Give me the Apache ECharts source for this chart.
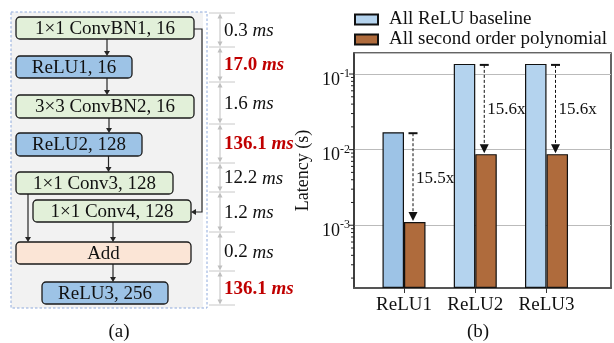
<!DOCTYPE html>
<html><head><meta charset="utf-8">
<script src="https://cdn.jsdelivr.net/npm/echarts@6/dist/echarts.min.js"></script>
<style>html,body{margin:0;padding:0;background:#fff}#c{width:614px;height:343px}</style>
</head><body><div id="c"></div>
<script>
// ---------------- data ----------------
const categories = ['ReLU1', 'ReLU2', 'ReLU3'];
const reluBaseline = [0.0170, 0.1361, 0.1361];      // seconds
const polyLatency = [0.00110, 0.00872, 0.00872];    // seconds
const speedupLabels = ['15.5x', '15.6x', '15.6x'];
const legendNames = ['All ReLU baseline', 'All second order polynomial'];
const yTickExponents = [-3, -2, -1];

const layerNames = ['1×1 ConvBN1, 16', 'ReLU1, 16', '3×3 ConvBN2, 16', 'ReLU2, 128',
                    '1×1 Conv3, 128', '1×1 Conv4, 128', 'Add', 'ReLU3, 256'];
const layerKinds = ['conv', 'relu', 'conv', 'relu', 'conv', 'conv', 'add', 'relu'];
const layerLatencyMs = ['0.3', '17.0', '1.6', '136.1', '12.2', '1.2', '0.2', '136.1'];
const latencyHighlight = [false, true, false, true, false, false, false, true];

// ---------------- layout / style ----------------
const FONT = 'Liberation Serif';
const yMin = 1.479e-4, yMax = 0.1897;
const xMin = -0.7018, xMax = 2.905;
const BAR_W = 21.5;

const boxLayout = [[16,17,178,22],[16,56,116,22],[16,95,178,23],[16,133,126,23],
                   [16,172,157,22],[33,200,158,22],[16,242,175,22],[42,282,126,22]];
const kindFill = {conv: '#E2F0D9', relu: '#9DC3E6', add: '#FBE5D6'};
const sepY = [13, 47, 82, 124, 163, 192, 232, 271, 305];

const g = [];
// panel
g.push({type:'rect', shape:{x:11, y:12, width:192, height:296}, style:{fill:'#F2F2F2'}, z:1});
g.push({type:'rect', shape:{x:11, y:12, width:196, height:296}, style:{fill:'none', stroke:'#8FAADC', lineWidth:1, lineDash:[2.5,2]}, z:2});
// boxes
layerNames.forEach((name, i) => {
  const b = boxLayout[i];
  g.push({type:'rect', shape:{x:b[0], y:b[1], width:b[2], height:b[3], r:4},
    style:{fill:kindFill[layerKinds[i]], stroke:'#1a1a1a', lineWidth:1.3}, z:5});
  g.push({type:'text', x:b[0] + b[2]/2, y:b[1] + b[3]/2 + 1,
    style:{text:name, fontFamily:FONT, fontSize:19, fill:'#111', align:'center', verticalAlign:'middle'}, z:6});
});
// arrows
function arrowDown(x, y0, y1) {
  g.push({type:'line', shape:{x1:x, y1:y0, x2:x, y2:y1-4}, style:{stroke:'#262626', lineWidth:1.2}, z:4});
  g.push({type:'polygon', shape:{points:[[x-3,y1-5],[x+3,y1-5],[x,y1]]}, style:{fill:'#262626'}, z:4});
}
arrowDown(107, 39, 56);
arrowDown(107, 78, 95);
arrowDown(109, 118, 133);
arrowDown(108.5, 156, 172);
arrowDown(28, 194, 242);
arrowDown(113, 222, 242);
arrowDown(113, 264, 282);
g.push({type:'polyline', shape:{points:[[194,29],[202,29],[202,212],[196,212]]}, style:{stroke:'#262626', lineWidth:1.2, fill:null}, z:4});
g.push({type:'polygon', shape:{points:[[196,209],[196,215],[191,212]]}, style:{fill:'#262626'}, z:4});
// latency brackets
sepY.forEach(y => g.push({type:'line', shape:{x1:209, y1:y, x2:235, y2:y}, style:{stroke:'#C8C8C8', lineWidth:1}, z:3}));
layerLatencyMs.forEach((ms, k) => {
  const a = sepY[k], b = sepY[k+1];
  g.push({type:'line', shape:{x1:220, y1:a+4, x2:220, y2:b-4}, style:{stroke:'#BFBFBF', lineWidth:1}, z:3});
  g.push({type:'polygon', shape:{points:[[217.5,a+5.5],[222.5,a+5.5],[220,a+0.5]]}, style:{fill:'#BFBFBF'}, z:3});
  g.push({type:'polygon', shape:{points:[[217.5,b-5.5],[222.5,b-5.5],[220,b-0.5]]}, style:{fill:'#BFBFBF'}, z:3});
  const hi = latencyHighlight[k];
  g.push({type:'text', x:224, y:(a+b)/2 + 1,
    style:{text: hi ? '{rn|' + ms + ' }{ri|ms}' : '{n|' + ms + ' }{i|ms}',
      verticalAlign:'middle', align:'left',
      rich:{
        n:{fontFamily:FONT, fontSize:19, fill:'#111'},
        i:{fontFamily:FONT, fontSize:19, fill:'#111', fontStyle:'italic'},
        rn:{fontFamily:FONT, fontSize:19, fill:'#C00000', fontWeight:'bold'},
        ri:{fontFamily:FONT, fontSize:19, fill:'#C00000', fontWeight:'bold', fontStyle:'italic'}
      }}, z:6});
});
// panel captions
g.push({type:'text', x:119, y:332, style:{text:'(a)', fontFamily:FONT, fontSize:19, fill:'#111', align:'center', verticalAlign:'middle'}});
g.push({type:'text', x:478, y:332, style:{text:'(b)', fontFamily:FONT, fontSize:19, fill:'#111', align:'center', verticalAlign:'middle'}});

// y ticks (log major + minor)
const yTickData = [];
[-4, -3, -2, -1].forEach(e => {
  for (let m = 1; m <= 9; m++) {
    const v = m * Math.pow(10, e);
    if (v >= yMin && v <= yMax) yTickData.push([0, v, m === 1 ? 5 : 3]);
  }
});

const chart = echarts.init(document.getElementById('c'));
chart.setOption({
  animation: false,
  textStyle: {fontFamily: FONT},
  legend: {
    orient: 'vertical', left: 354, top: 10, padding: 0, itemWidth: 23, itemHeight: 10, itemGap: 1,
    icon: 'rect', data: legendNames,
    textStyle: {fontSize: 19, color: '#111', fontFamily: FONT, padding: [0, 0, 0, 6]}
  },
  grid: {left: 354, right: 3, top: 53, bottom: 55, show: true, borderColor: '#333', borderWidth: 1.5},
  xAxis: {
    type: 'value', min: xMin, max: xMax,
    splitLine: {show: false},
    axisLine: {onZero: false, lineStyle: {color: '#555', width: 2}},
    axisTick: {customValues: [0, 1, 2], length: 5, lineStyle: {color: '#333'}},
    axisLabel: {customValues: [0, 1, 2], formatter: v => categories[Math.round(v)],
      fontSize: 19, color: '#111', fontFamily: FONT, margin: 8}
  },
  yAxis: {
    type: 'log', logBase: 10, min: yMin, max: yMax, startValue: yMin,
    name: 'Latency (s)', nameLocation: 'middle', nameGap: 42,
    nameTextStyle: {fontSize: 18, color: '#111', fontFamily: FONT},
    axisLine: {onZero: false, lineStyle: {color: '#333', width: 1.5}},
    axisTick: {show: false},
    axisLabel: {
      showMinLabel: false, showMaxLabel: false, margin: 4,
      formatter: v => {
        const e = Math.round(Math.log10(v));
        return yTickExponents.indexOf(e) >= 0 ? '{b|10}{s|' + e + '}' : '';
      },
      rich: {
        b: {fontSize: 18, fontFamily: FONT, color: '#111', padding: [12, 0, 0, 0]},
        s: {fontSize: 12, fontFamily: FONT, color: '#111', verticalAlign: 'top', padding: [9, 0, 0, 0]}
      }
    },
    splitLine: {lineStyle: {color: '#BBBBBB', width: 1}}
  },
  series: [
    {
      type: 'bar', name: legendNames[0], barWidth: BAR_W, barGap: '0%',
      data: categories.map((c, i) => i === 0
        ? {value: [i, reluBaseline[i]], itemStyle: {color: '#9DC3E6'}}
        : [i, reluBaseline[i]]),
      itemStyle: {color: '#B4D3EE', borderColor: '#111', borderWidth: 1.2}
    },
    {
      type: 'bar', name: legendNames[1], barWidth: BAR_W, barGap: '0%',
      data: categories.map((c, i) => [i, polyLatency[i]]),
      itemStyle: {color: '#AF6B3C', borderColor: '#111', borderWidth: 1.2}
    },
    {
      type: 'custom', name: 'ratio', silent: true, z: 5,
      data: categories.map((c, i) => [i, reluBaseline[i], polyLatency[i]]),
      renderItem: (params, api) => {
        const i = api.value(0);
        const top = api.coord([i, api.value(1)]);
        const bot = api.coord([i, api.value(2)]);
        const mid = api.coord([i, Math.sqrt(api.value(1) * api.value(2))]);
        const x = top[0] + 9;
        const ty = top[1] + 1, by = bot[1] - 1;
        return {type: 'group', children: [
          {type: 'line', shape: {x1: x - 4.5, y1: ty, x2: x + 4.5, y2: ty}, style: {stroke: '#111', lineWidth: 2}},
          {type: 'line', shape: {x1: x, y1: ty, x2: x, y2: by - 9}, style: {stroke: '#111', lineWidth: 1, lineDash: [3, 2]}},
          {type: 'polygon', shape: {points: [[x - 4.5, by - 9], [x + 4.5, by - 9], [x, by]]}, style: {fill: '#111'}},
          {type: 'text', x: x + 3, y: mid[1] + 1, style: {text: speedupLabels[params.dataIndex],
            fontFamily: FONT, fontSize: 17, fill: '#111', align: 'left', verticalAlign: 'middle'}}
        ]};
      }
    },
    {
      type: 'custom', name: 'yticks', silent: true, clip: false, z: 6,
      data: yTickData,
      renderItem: (params, api) => {
        const p = api.coord([api.value(0), api.value(1)]);
        const x0 = params.coordSys.x;
        const len = api.value(2);
        return {type: 'line', shape: {x1: x0 - len, y1: p[1], x2: x0, y2: p[1]},
          style: {stroke: '#222', lineWidth: 1}};
      }
    }
  ],
  graphic: {elements: g}
});
</script>
</body></html>
